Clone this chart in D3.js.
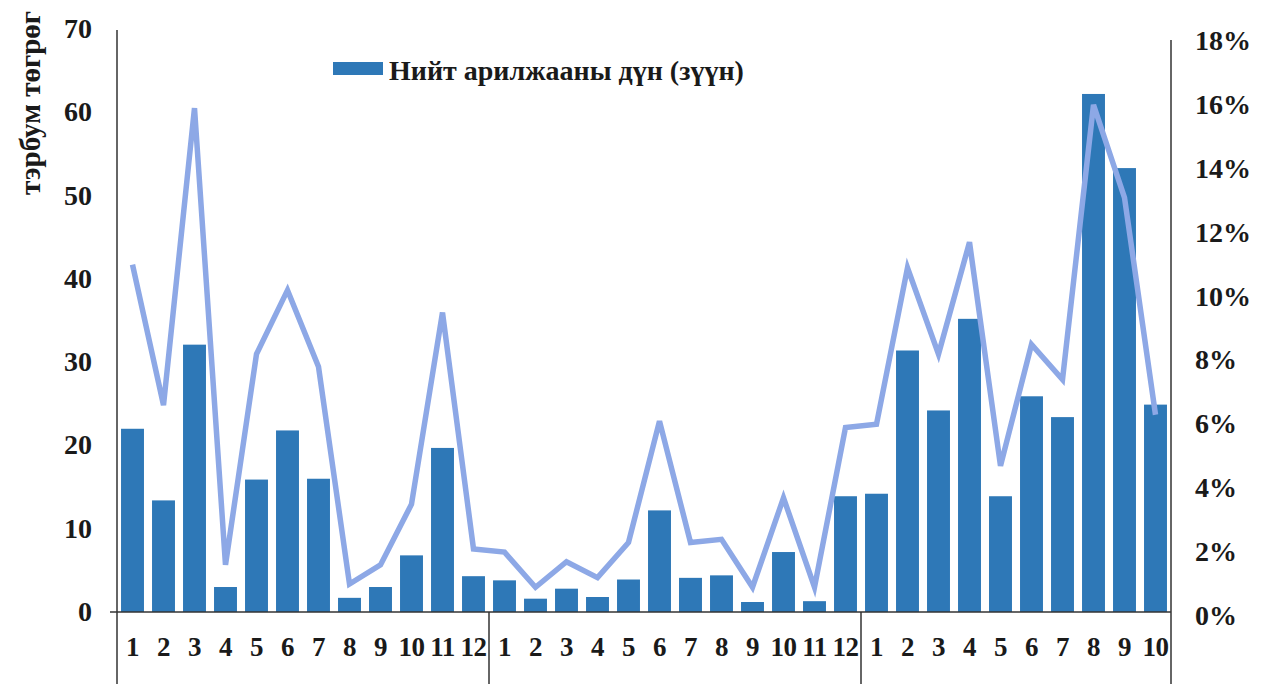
<!DOCTYPE html>
<html>
<head>
<meta charset="utf-8">
<script src="https://cdn.jsdelivr.net/npm/d3@7"></script>
<style>
body { margin: 0; background: #ffffff; }
text { font-family: "Liberation Serif", "DejaVu Serif", serif; font-weight: bold; fill: #1a1a1a; }
</style>
</head>
<body>
<div id="chart"></div>
<script>
// month labels, three periods (12 + 12 + 10)
var months = [1,2,3,4,5,6,7,8,9,10,11,12, 1,2,3,4,5,6,7,8,9,10,11,12, 1,2,3,4,5,6,7,8,9,10];
var groupSizes = [12, 12, 10];

// Нийт арилжааны дүн, тэрбум төгрөг (left axis)
var tradeValue = [22.0, 13.4, 32.1, 3.0, 15.9, 21.8, 16.0, 1.7, 3.0, 6.8, 19.7, 4.3,
                  3.8, 1.6, 2.8, 1.8, 3.9, 12.2, 4.1, 4.4, 1.2, 7.2, 1.3, 13.9,
                  14.2, 31.4, 24.2, 35.2, 13.9, 25.9, 23.4, 62.2, 53.3, 24.9];

// right axis share (line)
var share = [0.110, 0.066, 0.159, 0.016, 0.082, 0.102, 0.078, 0.010, 0.016, 0.035, 0.095, 0.021,
             0.020, 0.009, 0.017, 0.012, 0.023, 0.061, 0.023, 0.024, 0.009, 0.037, 0.009, 0.059,
             0.060, 0.109, 0.082, 0.117, 0.047, 0.085, 0.074, 0.160, 0.131, 0.063];

var leftTicks = [0, 10, 20, 30, 40, 50, 60, 70];
var rightTicks = [0, 0.02, 0.04, 0.06, 0.08, 0.10, 0.12, 0.14, 0.16, 0.18];

var legendLabel = "Нийт арилжааны дүн (зүүн)";
var yTitle = "тэрбум төгрөг";

var wwidth = 1263, hheight = 684;
var plotLeft = 117, plotRight = 1171;

var svg = d3.select("#chart").append("svg")
    .attr("width", wwidth)
    .attr("height", hheight);

var idx = d3.range(months.length);

var x = d3.scaleBand()
    .domain(idx)
    .range([plotLeft, plotRight])
    .paddingInner(0.26)
    .paddingOuter(0.13);

var yL = d3.scaleLinear().domain([0, 70]).range([612, 29]);
var yR = d3.scaleLinear().domain([0, 0.18]).range([616, 41]);

// bars
svg.append("g").selectAll("rect")
    .data(tradeValue)
    .enter().append("rect")
    .attr("x", function(d, i) { return x(i); })
    .attr("y", function(d) { return yL(d); })
    .attr("width", x.bandwidth())
    .attr("height", function(d) { return yL(0) - yL(d); })
    .attr("fill", "#2e78b7");

// line
var line = d3.line()
    .x(function(d, i) { return x(i) + x.bandwidth() / 2; })
    .y(function(d) { return yR(d); });

svg.append("path")
    .datum(share)
    .attr("d", line)
    .attr("fill", "none")
    .attr("stroke", "#8da8e6")
    .attr("stroke-width", 5.5)
    .attr("stroke-linejoin", "miter");

// axis lines
var axisCol = "#333333";
svg.append("line")
    .attr("x1", plotLeft).attr("x2", plotLeft)
    .attr("y1", 30).attr("y2", hheight)
    .attr("stroke", axisCol).attr("stroke-width", 1.5);
svg.append("line")
    .attr("x1", plotRight).attr("x2", plotRight)
    .attr("y1", 40).attr("y2", hheight)
    .attr("stroke", axisCol).attr("stroke-width", 1.5);
svg.append("line")
    .attr("x1", 110).attr("x2", plotRight)
    .attr("y1", yL(0)).attr("y2", yL(0))
    .attr("stroke", axisCol).attr("stroke-width", 1.5);

// period separators
var cum = 0;
groupSizes.slice(0, -1).forEach(function(n) {
    cum += n;
    var sx = x(cum) - x.step() * x.paddingInner() / 2;
    svg.append("line")
        .attr("x1", sx).attr("x2", sx)
        .attr("y1", yL(0)).attr("y2", hheight)
        .attr("stroke", axisCol).attr("stroke-width", 1.5);
});

// month labels
svg.append("g").selectAll("text")
    .data(months)
    .enter().append("text")
    .attr("x", function(d, i) { return x(i) + x.bandwidth() / 2; })
    .attr("y", 656)
    .attr("text-anchor", "middle")
    .attr("font-size", 27)
    .attr("letter-spacing", -0.5)
    .text(function(d) { return d; });

// left ticks
svg.append("g").selectAll("text")
    .data(leftTicks)
    .enter().append("text")
    .attr("x", 92)
    .attr("y", function(d) { return yL(d) + 9; })
    .attr("text-anchor", "end")
    .attr("font-size", 28)
    .text(function(d) { return d; });

// right ticks
var pct = d3.format(".0%");
svg.append("g").selectAll("text")
    .data(rightTicks)
    .enter().append("text")
    .attr("x", 1195)
    .attr("y", function(d) { return yR(d) + 9; })
    .attr("text-anchor", "start")
    .attr("font-size", 28)
    .text(function(d) { return pct(d); });

// y title
svg.append("text")
    .attr("transform", "translate(40,103) rotate(-90)")
    .attr("text-anchor", "middle")
    .attr("font-size", 29)
    .text(yTitle);

// legend
svg.append("rect")
    .attr("x", 333).attr("y", 62)
    .attr("width", 50).attr("height", 13)
    .attr("fill", "#2e78b7");
svg.append("text")
    .attr("x", 389).attr("y", 80)
    .attr("font-size", 28)
    .text(legendLabel);
</script>
</body>
</html>
